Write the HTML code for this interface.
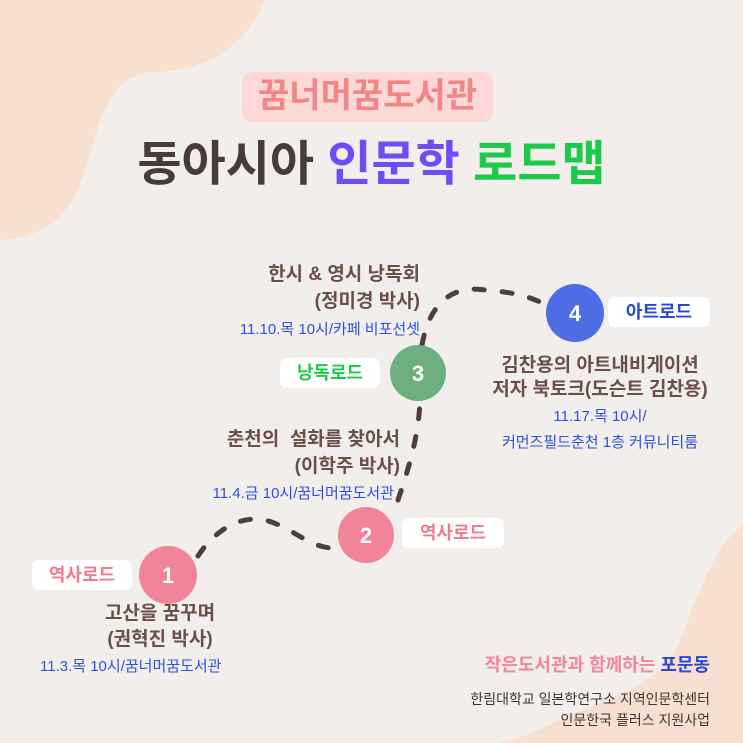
<!DOCTYPE html>
<html><head><meta charset="utf-8"><style>
body{margin:0}
#c{position:relative;width:743px;height:743px;background:#f2eeeb;overflow:hidden;font-family:"Liberation Sans","Noto Sans CJK KR",sans-serif;font-weight:bold}
.t{position:absolute;white-space:nowrap;line-height:1}
.b{color:#6b5048;font-size:19px}
.bl{color:#2f4fe0;font-size:15px;font-weight:normal}
.lab{position:absolute;background:#fff;border-radius:7px;font-size:18px;text-align:center;line-height:30px}
</style></head><body><div id="c">
<svg width="743" height="743" style="position:absolute;left:0;top:0">
<path d="M0,0 L265,0 C250,40 210,72 155,72 C110,72 100,120 85,170 C70,220 40,238 0,240 Z" fill="#f8e0d0"/>
<path d="M743,525 C715,545 700,590 680,640 C660,690 600,700 560,720 C530,735 505,743 495,743 L743,743 Z" fill="#f8e0d0"/>
<g fill="none" stroke="#4e3e3c" stroke-width="5" stroke-linecap="round" stroke-dasharray="10 18">
<path d="M198,556 C215,530 240,515 265,520 C295,528 310,550 338,548"/>
<path d="M398,500 C408,470 418,440 420,402"/>
<path d="M422,345 C430,300 455,285 485,290 C510,292 525,295 540,302"/>
</g>
<circle cx="168" cy="575" r="29" fill="#f2849a"/>
<circle cx="366" cy="535" r="28" fill="#f2849a"/>
<circle cx="418" cy="373" r="28" fill="#6daf7f"/>
<circle cx="575" cy="313" r="29" fill="#4e6ee6"/>
<g fill="#fff" font-family="Liberation Sans" font-weight="bold" font-size="22" text-anchor="middle">
<text x="168" y="583">1</text><text x="366" y="543">2</text><text x="418" y="381">3</text><text x="575" y="321">4</text>
</g>
</svg>
<div style="position:absolute;left:242px;top:72px;width:251px;height:50px;background:#fcd8d6;border-radius:10px"></div>
<div class="t" style="left:242px;top:79px;width:251px;text-align:center;font-size:34px;color:#f28585">꿈너머꿈도서관</div>
<div class="t" style="left:100px;top:141px;width:543px;text-align:center;font-size:48px;color:#4a3b3b">동아시아 <span style="color:#6b4ef5">인문학</span> <span style="color:#1ec84a">로드맵</span></div>

<div class="lab" style="left:32px;top:560px;width:100px;color:#f27a90">역사로드</div>
<div class="lab" style="left:402px;top:518px;width:102px;color:#f27a90">역사로드</div>
<div class="lab" style="left:280px;top:358px;width:100px;color:#1ec84a">낭독로드</div>
<div class="lab" style="left:608px;top:297px;width:102px;color:#2a47d8">아트로드</div>

<div class="t b" style="right:323px;top:265px">한시 &amp; 영시 낭독회</div>
<div class="t b" style="right:323px;top:292px">(정미경 박사)</div>
<div class="t bl" style="right:323px;top:322px">11.10.목 10시/카페 비포선셋</div>

<div class="t b" style="right:343px;top:430px">춘천의&nbsp; 설화를 찾아서</div>
<div class="t b" style="right:343px;top:457px">(이학주 박사)</div>
<div class="t bl" style="right:349px;top:486px">11.4.금 10시/꿈너머꿈도서관</div>

<div class="t b" style="left:470px;top:356px;width:260px;text-align:center">김찬용의 아트내비게이션</div>
<div class="t b" style="left:470px;top:380px;width:260px;text-align:center">저자 북토크(도슨트 김찬용)</div>
<div class="t bl" style="left:470px;top:409px;width:260px;text-align:center">11.17.목 10시/</div>
<div class="t bl" style="left:470px;top:435px;width:260px;text-align:center">커먼즈필드춘천 1층 커뮤니티룸</div>

<div class="t b" style="left:60px;top:604px;width:200px;text-align:center">고산을 꿈꾸며</div>
<div class="t b" style="left:60px;top:630px;width:200px;text-align:center">(권혁진 박사)</div>
<div class="t bl" style="left:40px;top:659px">11.3.목 10시/꿈너머꿈도서관</div>

<div class="t" style="right:33px;top:656px;font-size:18px;color:#f28598">작은도서관과 함께하는 <span style="color:#2a47d8">포문동</span></div>
<div class="t" style="right:33px;top:692px;font-size:14px;font-weight:normal;color:#3e3535">한림대학교 일본학연구소 지역인문학센터</div>
<div class="t" style="right:33px;top:713px;font-size:14px;font-weight:normal;color:#3e3535">인문한국 플러스 지원사업</div>
</div></body></html>
